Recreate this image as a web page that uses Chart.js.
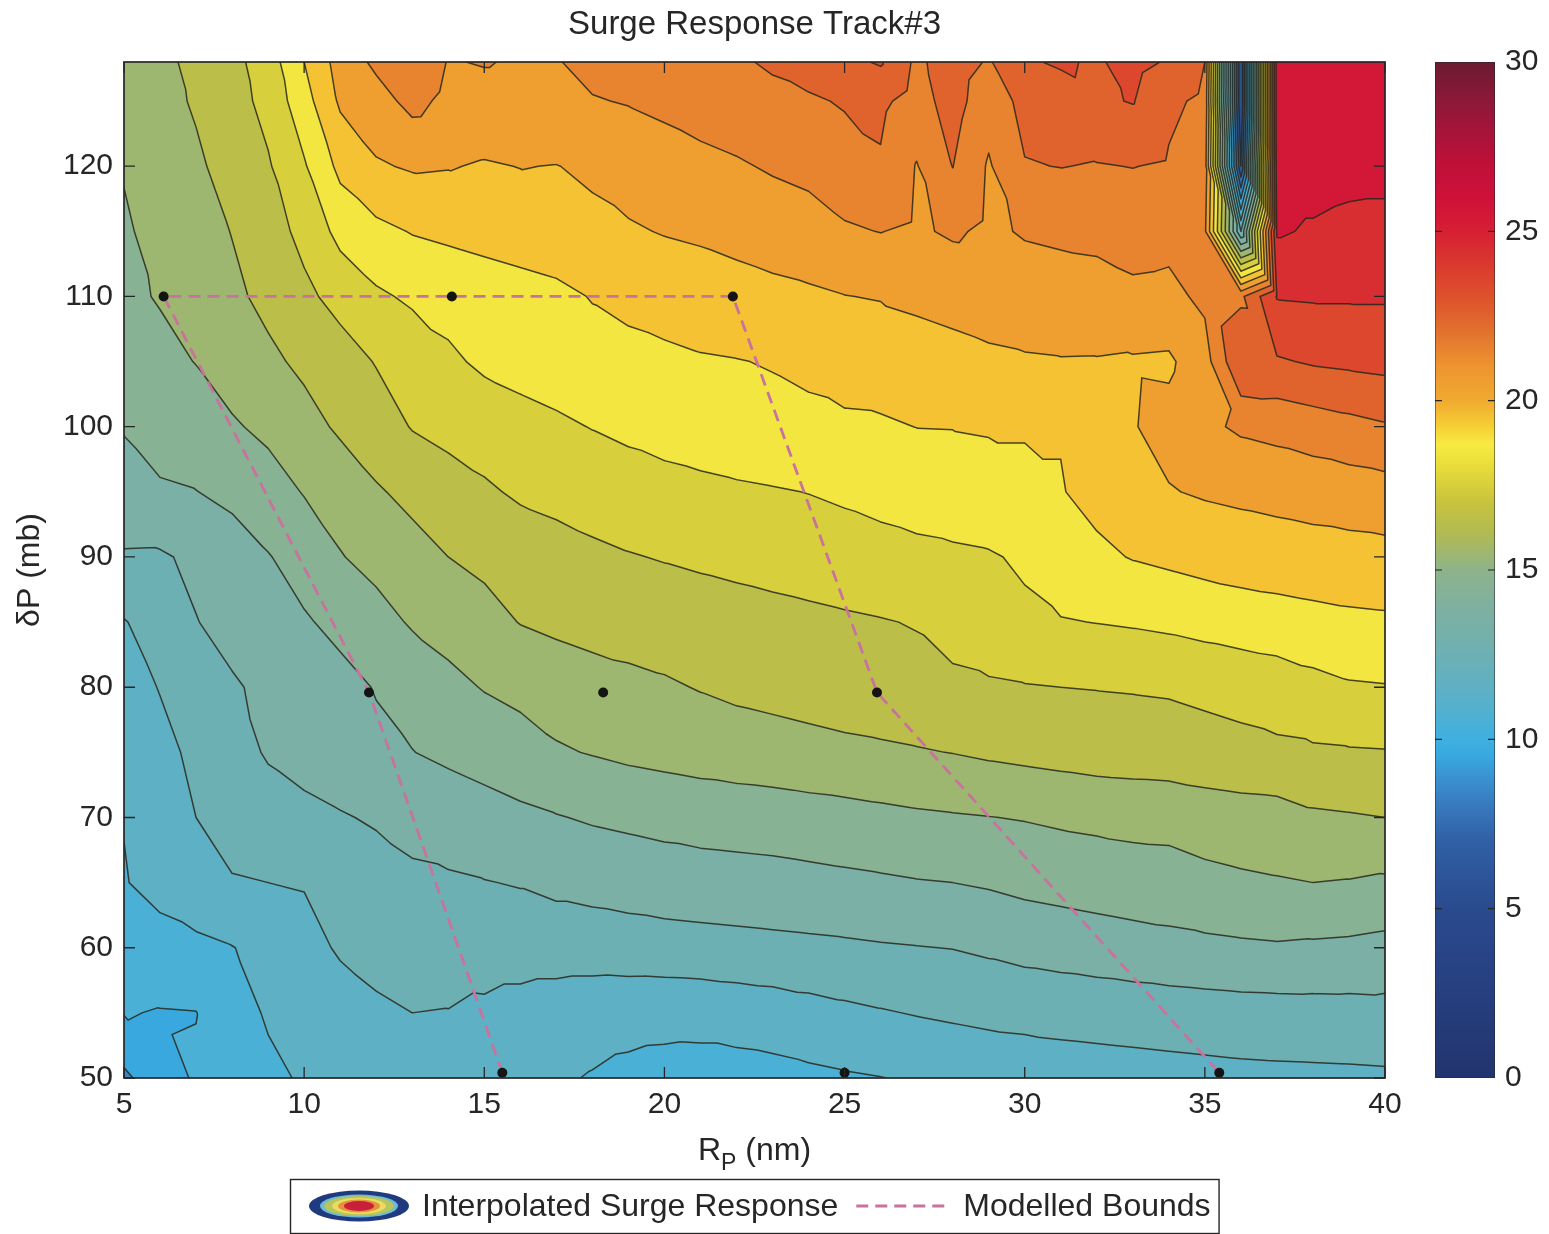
<!DOCTYPE html>
<html>
<head>
<meta charset="utf-8">
<title>Surge Response Track#3</title>
<script src="https://cdn.jsdelivr.net/npm/chart.js@4.4.1/dist/chart.umd.min.js"></script>
<style>
  html, body { margin: 0; padding: 0; background: #ffffff; }
  #wrap { width: 1549px; height: 1234px; position: relative; }
</style>
</head>
<body>
<div id="wrap"><canvas id="surgeChart" width="1549" height="1234"></canvas></div>
<script>
// ---- Grid axes of the interpolated surge field ----
const rpGrid = [5,6,7,8,9,10,11,12,13,14,15,16,17,18,19,20,21,22,23,24,25,26,27,28,29,30,31,32,33,34,35,36,37,38,39,40];
const dpGrid = [50,55,60,65,70,75,80,85,90,95,100,105,110,115,120,125,128];

// ---- Surge response (one row per pressure deficit, one value per radius) ----
const surge50  = [8.8,9.6,10.1,10.5,10.8,11.1,11.3,11.4,11.5,11.45,11.35,11.25,11.1,10.95,10.8,10.7,10.65,10.65,10.7,10.8,10.9,10.98,11.1,11.2,11.3,11.4,11.5,11.55,11.6,11.65,11.7,11.75,11.78,11.8,11.82,11.85];
const surge55  = [10.05,9.95,9.98,10.6,11.1,11.4,11.6,11.85,12.0,11.97,11.8,11.6,11.45,11.35,11.3,11.28,11.3,11.4,11.5,11.65,11.8,11.93,12.05,12.15,12.25,12.3,12.35,12.4,12.45,12.5,12.55,12.6,12.62,12.64,12.66,12.7];
const surge60  = [10.6,10.65,10.8,10.97,11.3,11.7,12.1,12.3,12.4,12.45,12.5,12.5,12.5,12.5,12.55,12.6,12.65,12.7,12.75,12.8,12.85,12.92,12.97,13.02,13.15,13.3,13.4,13.5,13.6,13.7,13.78,13.85,13.9,13.85,13.8,13.7];
const surge65  = [10.95,11.3,11.6,11.95,12.0,12.05,12.3,12.6,12.85,12.9,12.97,13.05,13.2,13.3,13.4,13.5,13.55,13.6,13.65,13.72,13.8,13.87,13.95,14.0,14.1,14.25,14.35,14.45,14.55,14.6,14.75,14.85,14.93,15.0,14.95,14.85];
const surge70  = [11.03,11.5,12.0,12.3,12.55,12.75,12.93,13.1,13.25,13.4,13.6,13.8,13.95,14.1,14.2,14.3,14.4,14.45,14.5,14.58,14.65,14.75,14.85,14.92,14.98,15.05,15.15,15.22,15.28,15.3,15.45,15.55,15.6,15.85,15.92,16.0];
const surge75  = [11.5,11.8,12.15,12.6,13.1,13.35,13.55,13.8,13.98,14.2,14.4,14.6,14.9,15.05,15.2,15.3,15.4,15.5,15.58,15.68,15.78,15.85,15.93,16.02,16.15,16.25,16.35,16.45,16.5,16.55,16.65,16.75,16.83,16.88,16.92,16.95];
const surge80  = [11.7,12.03,12.5,12.9,13.2,13.45,13.7,14.05,14.35,14.75,15.05,15.25,15.45,15.6,15.75,15.88,16.05,16.2,16.3,16.4,16.5,16.6,16.7,16.8,16.88,16.95,17.0,17.03,17.06,17.1,17.2,17.3,17.45,17.7,17.9,17.95];
const surge85  = [11.95,12.4,12.97,13.3,13.6,13.9,14.25,14.65,15.1,15.35,15.7,16.03,16.2,16.35,16.42,16.5,16.55,16.62,16.7,16.78,16.87,16.95,17.05,17.35,17.6,17.8,17.95,18.02,18.1,18.2,18.35,18.5,18.6,18.7,18.8,18.85];
const surge90  = [12.9,12.88,13.2,13.5,13.95,14.4,14.95,15.3,15.65,16.0,16.2,16.4,16.6,16.8,16.95,17.05,17.15,17.25,17.35,17.45,17.55,17.65,17.75,17.82,17.9,18.15,18.55,18.8,19.05,19.2,19.35,19.45,19.52,19.6,19.65,19.7];
const surge95  = [13.7,13.9,13.98,14.25,14.6,15.05,15.4,15.9,16.25,16.55,16.85,17.15,17.3,17.45,17.55,17.65,17.75,17.85,17.93,18.02,18.15,18.3,18.45,18.6,18.75,18.85,18.95,19.3,19.7,19.95,20.1,20.2,20.3,20.4,20.5,20.6];
const surge100 = [14.05,14.35,14.65,14.9,15.2,15.65,16.15,16.55,17.05,17.3,17.5,17.7,17.85,18.03,18.2,18.38,18.52,18.65,18.75,18.83,18.88,18.9,19.01,19.02,19.05,19.05,19.05,19.2,19.95,20.3,20.8,21.15,21.3,21.5,21.7,21.9];
const surge105 = [14.6,14.8,15.02,15.4,15.8,16.2,16.6,17.05,17.4,17.85,18.15,18.3,18.45,18.6,18.7,18.8,18.92,18.97,19.05,19.15,19.3,19.4,19.72,19.8,19.88,19.93,19.96,19.95,19.9,19.85,20.6,22.95,22.9,23.1,23.2,23.3];
const surge110 = [14.85,15.05,15.4,15.8,16.25,16.8,17.3,17.85,18.15,18.3,18.45,18.6,18.75,19.05,19.25,19.4,19.5,19.62,19.75,19.85,19.98,20.05,20.12,20.2,20.3,20.4,20.5,20.6,20.8,20.75,21.2,21.8,24.05,24.1,24.1,24.1];
const surge115 = [14.9,15.25,15.6,16.03,16.6,17.25,18.3,18.75,19.05,19.2,19.35,19.5,19.65,19.78,19.9,20.05,20.15,20.3,20.45,20.6,20.9,21.02,20.85,21.15,20.8,21.1,21.2,21.25,21.4,21.3,21.2,12.0,25.1,24.9,24.75,24.7];
const surge120 = [15.05,15.55,15.85,16.35,16.9,17.9,19.25,19.9,20.1,20.05,19.92,20.02,19.98,20.15,20.4,20.6,20.75,20.9,21.1,21.25,21.5,21.9,20.95,22.02,20.9,21.95,22.02,21.95,22.02,21.9,21.5,6.0,25.4,25.4,25.3,25.3];
const surge125 = [15.4,15.7,16.1,16.6,17.3,18.6,20.15,20.6,21.3,20.75,20.7,20.7,20.8,20.95,21.05,21.2,21.4,21.55,21.7,21.85,22.1,22.2,21.6,22.4,21.4,22.3,22.6,22.85,23.05,22.2,21.8,5.0,25.5,25.6,25.6,25.6];
const surge128 = [15.55,15.75,16.25,16.7,17.5,19.0,20.4,21.2,21.8,20.95,21.05,20.9,20.95,21.25,21.45,21.6,21.75,21.85,22.15,22.5,22.75,23.1,21.8,22.5,21.9,22.9,23.1,22.9,23.3,22.9,22.0,5.0,25.5,25.6,25.7,25.7];

// ---- Modelled bounds (dashed outline) and modelled runs (dots) ----
const boundsRp = [15.5, 11.8, 6.1, 21.9, 25.9, 35.4];
const boundsDp = [50.4, 79.6, 110, 110, 79.6, 50.4];
const runRp = [6.1, 14.1, 21.9, 11.8, 18.3, 25.9, 15.5, 25.0, 35.4];
const runDp = [110, 110, 110, 79.6, 79.6, 79.6, 50.4, 50.4, 50.4];

// ---- Tick labels ----
const rpTicks = [5, 10, 15, 20, 25, 30, 35, 40];
const dpTicks = [50, 60, 70, 80, 90, 100, 110, 120];
const surgeTicks = [0, 5, 10, 15, 20, 25, 30];
const contourLevels = [1,2,3,4,5,6,7,8,9,10,11,12,13,14,15,16,17,18,19,20,21,22,23,24,25,26,27,28,29];

// ---- Colour map (surge value -> colour) ----
const cmapStops = [0,5,7,8,9,9.5,10,11,12,13,14,15,16,17,18,18.7,19.3,20,21,22,23,24,25,26,27,28,29,30];
const cmapHex = ['#22346f','#2a4a8e','#3060a6','#3878bc','#3a96d2','#38a8de','#3eb0e0','#56b0cc','#66b0bc','#74b0ac',
                 '#80b09e','#8eb38a','#aeba55','#c8c33c','#e6db3a','#f8ea42','#f5cc34','#f0aa30','#ee9430','#e2722e',
                 '#de532c','#da3a2e','#d61f34','#cf1139','#bf1039','#a5143a','#881937','#6c1a31'];

const surgeTable = [surge50, surge55, surge60, surge65, surge70, surge75, surge80, surge85, surge90,
                    surge95, surge100, surge105, surge110, surge115, surge120, surge125, surge128];

const FONT = "'Liberation Sans', Arial, Helvetica, sans-serif";
const INK = '#262626';
const BOUNDS_COLOR = '#c8729e';

function hexToRgb(h) { const n = parseInt(h.slice(1), 16); return [(n >> 16) & 255, (n >> 8) & 255, n & 255]; }
const cmapRgb = cmapHex.map(hexToRgb);
function cmap(v) {
  if (v <= cmapStops[0]) return cmapRgb[0];
  for (let k = 1; k < cmapStops.length; k++) {
    if (v <= cmapStops[k]) {
      const t = (v - cmapStops[k - 1]) / (cmapStops[k] - cmapStops[k - 1]);
      const a = cmapRgb[k - 1], b = cmapRgb[k];
      return [a[0] + (b[0] - a[0]) * t, a[1] + (b[1] - a[1]) * t, a[2] + (b[2] - a[2]) * t];
    }
  }
  return cmapRgb[cmapRgb.length - 1];
}
// each filled band takes the colour at its middle value
const bandRgb = [];
for (let b = 0; b < 30; b++) bandRgb.push(cmap(b + 0.5).map(Math.round));

function clamp(v, lo, hi) { return v < lo ? lo : (v > hi ? hi : v); }
function findCell(arr, v) {
  if (v <= arr[0]) return 0;
  for (let i = 0; i < arr.length - 1; i++) if (v <= arr[i + 1]) return i;
  return arr.length - 2;
}

// Filled contours + contour lines, drawn under the datasets through the x / y scales
const contourPlugin = {
  id: 'surgeContours',
  beforeDatasetsDraw(chart) {
    const { ctx, chartArea: a } = chart;
    const xs = chart.scales.x, ys = chart.scales.y;
    const L = Math.round(a.left), T = Math.round(a.top);
    const W = Math.round(a.right) - L, H = Math.round(a.bottom) - T;
    const img = ctx.createImageData(W, H);
    const data = img.data;
    const colI = new Int32Array(W), colU = new Float32Array(W);
    for (let c = 0; c < W; c++) {
      const xv = xs.getValueForPixel(L + c + 0.5);
      const i = findCell(rpGrid, xv);
      colI[c] = i;
      colU[c] = clamp((xv - rpGrid[i]) / (rpGrid[i + 1] - rpGrid[i]), 0, 1);
    }
    for (let r = 0; r < H; r++) {
      const yv = ys.getValueForPixel(T + r + 0.5);
      const j = findCell(dpGrid, yv);
      const v = clamp((yv - dpGrid[j]) / (dpGrid[j + 1] - dpGrid[j]), 0, 1);
      const r0 = surgeTable[j], r1 = surgeTable[j + 1];
      for (let c = 0; c < W; c++) {
        const i = colI[c], u = colU[c];
        let f;
        if (u + v <= 1) f = r0[i] + u * (r0[i + 1] - r0[i]) + v * (r1[i] - r0[i]);
        else f = r1[i + 1] + (1 - u) * (r1[i] - r1[i + 1]) + (1 - v) * (r0[i + 1] - r1[i + 1]);
        const col = bandRgb[clamp(Math.floor(f), 0, 29)];
        const o = (r * W + c) * 4;
        data[o] = col[0]; data[o + 1] = col[1]; data[o + 2] = col[2]; data[o + 3] = 255;
      }
    }
    ctx.putImageData(img, L, T);

    // contour lines on the same triangulation
    ctx.save();
    ctx.beginPath();
    ctx.rect(a.left, a.top, a.right - a.left, a.bottom - a.top);
    ctx.clip();
    ctx.strokeStyle = 'rgba(40,40,28,0.85)';
    ctx.lineWidth = 1.5;
    ctx.lineJoin = 'round';
    ctx.lineCap = 'round';
    ctx.beginPath();
    const seg = (P, lev) => {
      const pts = [];
      for (let e = 0; e < 3; e++) {
        const p = P[e], q = P[(e + 1) % 3];
        const dp = p[2] - lev, dq = q[2] - lev;
        if ((dp < 0) !== (dq < 0)) {
          const t = dp / (dp - dq);
          pts.push([p[0] + (q[0] - p[0]) * t, p[1] + (q[1] - p[1]) * t]);
        }
      }
      if (pts.length === 2) {
        ctx.moveTo(xs.getPixelForValue(pts[0][0]), ys.getPixelForValue(pts[0][1]));
        ctx.lineTo(xs.getPixelForValue(pts[1][0]), ys.getPixelForValue(pts[1][1]));
      }
    };
    for (let j = 0; j < dpGrid.length - 1; j++) {
      for (let i = 0; i < rpGrid.length - 1; i++) {
        const p00 = [rpGrid[i], dpGrid[j], surgeTable[j][i]];
        const p10 = [rpGrid[i + 1], dpGrid[j], surgeTable[j][i + 1]];
        const p01 = [rpGrid[i], dpGrid[j + 1], surgeTable[j + 1][i]];
        const p11 = [rpGrid[i + 1], dpGrid[j + 1], surgeTable[j + 1][i + 1]];
        const t1 = [p00, p10, p01], t2 = [p11, p01, p10];
        for (const lev of contourLevels) { seg(t1, lev); seg(t2, lev); }
      }
    }
    ctx.stroke();
    ctx.restore();
  }
};

// Axes box, inward ticks, colour bar, x-axis title and legend
const framePlugin = {
  id: 'surgeFrame',
  afterDraw(chart) {
    const { ctx, chartArea: a } = chart;
    const xs = chart.scales.x, ys = chart.scales.y, cb = chart.scales.cb;
    ctx.save();

    // colour bar
    const barL = cb.left + 50, barW = 60;
    const top = Math.round(cb.getPixelForValue(30)), bot = Math.round(cb.getPixelForValue(0));
    for (let py = top; py < bot; py++) {
      const c = cmap(cb.getValueForPixel(py + 0.5)).map(Math.round);
      ctx.fillStyle = `rgb(${c[0]},${c[1]},${c[2]})`;
      ctx.fillRect(barL, py, barW, 1);
    }
    ctx.strokeStyle = 'rgba(40,40,40,0.55)';
    ctx.lineWidth = 1;
    ctx.strokeRect(barL + 0.5, top + 0.5, barW - 1, bot - top - 1);
    ctx.strokeStyle = INK;
    ctx.lineWidth = 1.2;
    ctx.beginPath();
    for (const t of surgeTicks) {
      if (t === 0 || t === 30) continue;
      const py = cb.getPixelForValue(t);
      ctx.moveTo(barL, py); ctx.lineTo(barL + 7, py);
      ctx.moveTo(barL + barW, py); ctx.lineTo(barL + barW - 7, py);
    }
    ctx.stroke();

    // axes box with inward ticks
    ctx.strokeStyle = INK;
    ctx.lineWidth = 1.7;
    ctx.strokeRect(a.left, a.top, a.right - a.left, a.bottom - a.top);
    ctx.lineWidth = 1.3;
    ctx.beginPath();
    for (const t of rpTicks) {
      const px = xs.getPixelForValue(t);
      ctx.moveTo(px, a.bottom); ctx.lineTo(px, a.bottom - 11);
      ctx.moveTo(px, a.top); ctx.lineTo(px, a.top + 11);
    }
    for (const t of dpTicks) {
      const py = ys.getPixelForValue(t);
      ctx.moveTo(a.left, py); ctx.lineTo(a.left + 11, py);
      ctx.moveTo(a.right, py); ctx.lineTo(a.right - 11, py);
    }
    ctx.stroke();

    // x-axis title with subscript
    ctx.fillStyle = INK;
    ctx.textBaseline = 'alphabetic';
    ctx.textAlign = 'left';
    const mainFont = `32px ${FONT}`, subFont = `23px ${FONT}`;
    ctx.font = mainFont;
    const wR = ctx.measureText('R').width, wRest = ctx.measureText(' (nm)').width;
    ctx.font = subFont;
    const wP = ctx.measureText('P').width;
    let tx = (a.left + a.right) / 2 - (wR + wP + wRest) / 2;
    const base = xs.bottom - 14;
    ctx.font = mainFont; ctx.fillText('R', tx, base); tx += wR;
    ctx.font = subFont; ctx.fillText('P', tx, base + 10); tx += wP;
    ctx.font = mainFont; ctx.fillText(' (nm)', tx, base);

    // legend
    const lgFont = `32px ${FONT}`;
    ctx.font = lgFont;
    const txt1 = 'Interpolated Surge Response', txt2 = 'Modelled Bounds';
    const w1 = ctx.measureText(txt1).width, w2 = ctx.measureText(txt2).width;
    const padL = 19, iconW = 100, g1 = 13, g2 = 18, lineW = 92, g3 = 15, padR = 8;
    const boxW = padL + iconW + g1 + w1 + g2 + lineW + g3 + w2 + padR;
    const boxH = 54;
    const boxL = Math.round((a.left + a.right) / 2 - boxW / 2);
    const boxT = chart.height - boxH - 1;
    const cy = boxT + boxH / 2;
    ctx.fillStyle = '#ffffff';
    ctx.fillRect(boxL, boxT, boxW, boxH);
    ctx.strokeStyle = INK;
    ctx.lineWidth = 1.4;
    ctx.strokeRect(boxL + 0.5, boxT + 0.5, boxW, boxH);
    // ellipse icon for the filled contours
    const icx = boxL + padL + iconW / 2;
    const rings = [[50, 15.5, '#1f3a7e'], [39, 11.5, '#6cbad6'], [35, 10, '#b9c45a'], [27, 8, '#e8dc62'], [21, 6.5, '#e8913c'], [15, 5, '#c8203a']];
    for (const [rx, ry, col] of rings) {
      ctx.beginPath();
      ctx.ellipse(icx, cy, rx, ry, 0, 0, Math.PI * 2);
      ctx.fillStyle = col;
      ctx.fill();
    }
    let lx = boxL + padL + iconW + g1;
    ctx.fillStyle = INK;
    ctx.textBaseline = 'middle';
    ctx.font = lgFont;
    ctx.fillText(txt1, lx, cy + 1);
    lx += w1 + g2;
    ctx.strokeStyle = BOUNDS_COLOR;
    ctx.lineWidth = 2.8;
    ctx.setLineDash([12, 7]);
    ctx.beginPath();
    ctx.moveTo(lx, cy); ctx.lineTo(lx + lineW, cy);
    ctx.stroke();
    ctx.setLineDash([]);
    lx += lineW + g3;
    ctx.fillText(txt2, lx, cy + 1);

    ctx.restore();
  }
};

const tickFont = { family: FONT, size: 30 };

new Chart(document.getElementById('surgeChart'), {
  type: 'scatter',
  data: {
    datasets: [
      {
        label: 'Modelled Bounds',
        data: boundsRp.map((x, i) => ({ x, y: boundsDp[i] })),
        showLine: true,
        borderColor: BOUNDS_COLOR,
        borderWidth: 2.8,
        borderDash: [12, 7],
        pointRadius: 0,
        fill: false,
        order: 2
      },
      {
        label: 'Model runs',
        data: runRp.map((x, i) => ({ x, y: runDp[i] })),
        showLine: false,
        pointRadius: 5,
        pointBackgroundColor: '#141414',
        pointBorderColor: '#141414',
        pointBorderWidth: 0,
        order: 1
      }
    ]
  },
  options: {
    responsive: false,
    animation: false,
    devicePixelRatio: 1,
    layout: { padding: { left: 0, right: 0, top: 0, bottom: 60 } },
    plugins: {
      legend: { display: false },
      tooltip: { enabled: false },
      title: {
        display: true,
        fullSize: false,
        text: 'Surge Response Track#3',
        color: INK,
        font: { family: FONT, size: 33, weight: 'normal' },
        padding: { top: 5, bottom: 17.4 }
      }
    },
    scales: {
      x: {
        type: 'linear', position: 'bottom', min: 5, max: 40,
        grid: { display: false, drawTicks: false },
        border: { display: false },
        ticks: { font: tickFont, color: INK, padding: 9, autoSkip: false, maxRotation: 0 },
        afterBuildTicks: s => { s.ticks = rpTicks.map(v => ({ value: v })); },
        afterFit: s => { s.height = 96; s.paddingLeft = 0; s.paddingRight = 0; }
      },
      y: {
        type: 'linear', position: 'left', min: 50, max: 128,
        grid: { display: false, drawTicks: false },
        border: { display: false },
        ticks: { font: tickFont, color: INK, padding: 11, autoSkip: false },
        title: { display: true, text: 'δP (mb)', color: INK, font: { family: FONT, size: 32 }, padding: { top: 11, bottom: 0 } },
        afterBuildTicks: s => { s.ticks = dpTicks.map(v => ({ value: v })); },
        afterFit: s => { s.width = 124; s.paddingTop = 0; s.paddingBottom = 0; }
      },
      cb: {
        type: 'linear', position: 'right', min: 0, max: 30, display: true,
        grid: { display: false, drawTicks: false },
        border: { display: false },
        ticks: { font: tickFont, color: INK, padding: 120, autoSkip: false },
        afterBuildTicks: s => { s.ticks = surgeTicks.map(v => ({ value: v })); },
        afterFit: s => { s.width = 164; s.paddingTop = 0; s.paddingBottom = 0; }
      }
    }
  },
  plugins: [contourPlugin, framePlugin]
});
</script>
</body>
</html>
